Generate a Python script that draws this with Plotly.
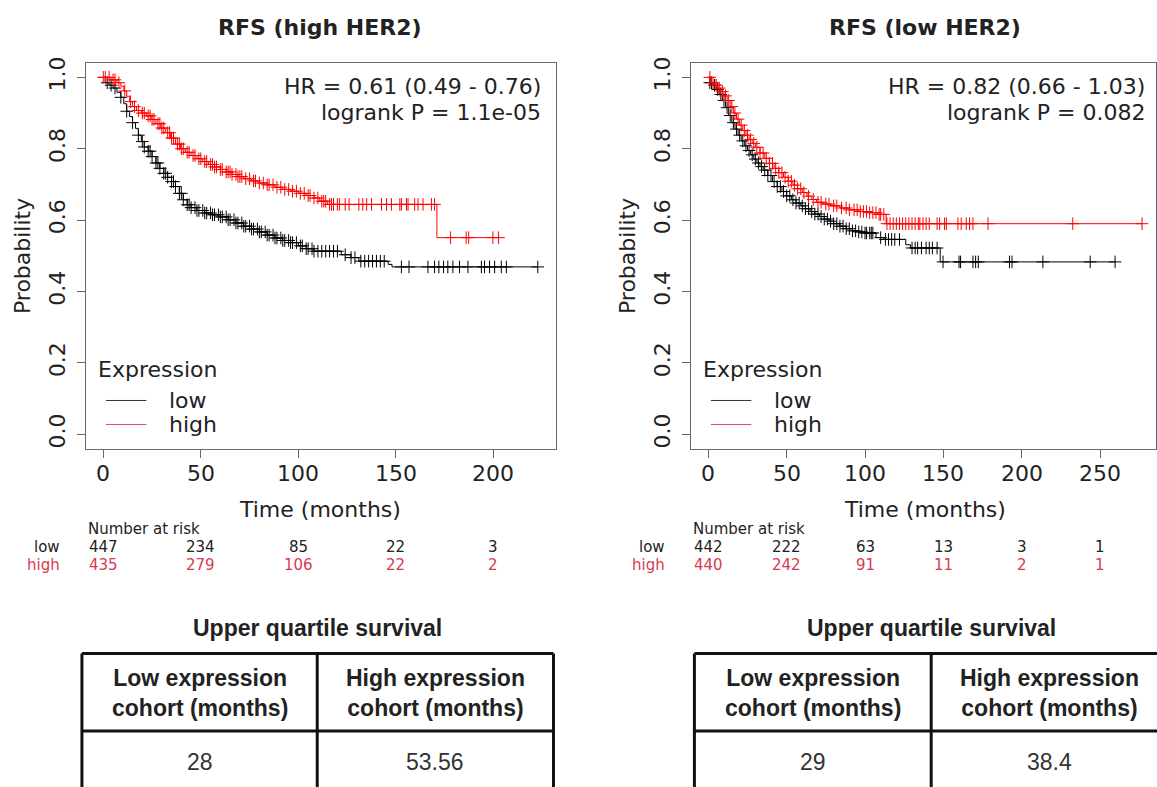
import numpy as np
import plotly.graph_objects as go

W, H = 1157, 787

# ---------------- Kaplan-Meier data: RFS (high HER2) ----------------
a_low_t = [0, 1, 3, 5, 7, 9, 10.5, 12, 13.5, 15, 16.5, 18, 19.5, 21, 23, 25, 27, 29, 31, 33,
           35, 37, 39, 41, 43, 45, 48, 52, 56, 60, 64, 68, 72, 76, 80, 84, 88, 92, 96, 100,
           104, 108, 122, 127, 131, 146, 148]
a_low_s = [1.0, 0.985, 0.978, 0.97, 0.958, 0.944, 0.926, 0.905, 0.89, 0.873, 0.857, 0.838,
           0.82, 0.805, 0.793, 0.778, 0.76, 0.745, 0.731, 0.72, 0.708, 0.694, 0.675, 0.657,
           0.643, 0.635, 0.627, 0.62, 0.615, 0.609, 0.601, 0.592, 0.583, 0.575, 0.567, 0.558,
           0.55, 0.543, 0.537, 0.528, 0.52, 0.513, 0.503, 0.495, 0.485, 0.476, 0.469]
a_low_end = 222.7
a_low_cens = [2, 4, 6, 9, 12, 15, 18, 20, 21, 23, 24, 25, 27, 28, 29, 31, 32, 33, 35, 36, 37,
              39, 40, 41, 43, 44, 45, 47, 48, 49, 51, 52, 53, 55, 56, 57, 59, 60, 61, 63, 64,
              65, 67, 68, 69, 71, 72, 73, 75, 76, 77, 79, 80, 81, 83, 84, 85, 87, 88, 89, 91,
              92, 93, 95, 96, 97, 99, 101, 102, 104, 105, 107, 108, 110, 112, 114, 116, 118,
              120, 124, 127, 129, 132, 134, 136, 138, 140, 142, 144, 152.8, 156.7, 166.4,
              169.8, 172, 174.4, 176.6, 179.2, 182.6, 186.9, 193.8, 195.4, 198, 200.6, 204,
              206.6, 222.7]

a_high_t = [0, 4, 7, 9, 10.5, 12, 13.5, 15, 17, 19.5, 22, 24.5, 27, 29.5, 32, 34.5, 37, 39.5,
            42, 45, 48, 51, 54, 57, 60, 63, 66, 69, 72, 76, 80, 84, 88, 92, 96, 100, 104, 108,
            111, 115, 171]
a_high_s = [1.0, 0.993, 0.985, 0.975, 0.962, 0.947, 0.932, 0.918, 0.907, 0.9, 0.892, 0.882,
            0.87, 0.858, 0.845, 0.83, 0.813, 0.8, 0.79, 0.781, 0.772, 0.764, 0.756, 0.749,
            0.742, 0.735, 0.728, 0.722, 0.716, 0.71, 0.704, 0.699, 0.692, 0.686, 0.681, 0.675,
            0.669, 0.662, 0.653, 0.644, 0.551]
a_high_end = 202.6
a_high_cens = [0, 1, 3, 5, 6, 8, 11, 14, 16, 18, 20, 21, 23, 24, 25, 26, 28, 29, 30, 31, 33,
               34, 35, 36, 38, 39, 40, 41, 43, 44, 46, 47, 49, 50, 52, 53, 55, 56, 57, 58, 60,
               61, 63, 64, 65, 66, 68, 69, 70, 71, 73, 75, 77, 78, 80, 82, 84, 85, 87, 89, 91,
               93, 95, 97, 99, 101, 103, 105, 106, 108, 110, 112, 113, 114, 116, 117, 118,
               120, 121, 124, 126, 131, 133, 135, 137.5, 142.6, 145.2, 147.7, 152, 152.8,
               155.4, 156.2, 159.6, 161.3, 163.9, 168.2, 169.8, 178, 186, 187.3, 199.7, 202.6]

a_xticks = [0, 50, 100, 150, 200]
a_risk_low = [447, 234, 85, 22, 3]
a_risk_high = [435, 279, 106, 22, 2]

# ---------------- Kaplan-Meier data: RFS (low HER2) ----------------
b_low_t = [0, 1, 3, 5, 7, 9, 11, 13, 15, 17, 19, 21, 23, 25, 27, 29, 31, 33, 35, 38, 41, 44,
           47, 50, 53, 56, 59, 62, 65, 68, 71, 74, 77, 80, 84, 88, 92, 96, 100, 107, 112, 126,
           129, 148]
b_low_s = [1.0, 0.985, 0.978, 0.966, 0.952, 0.935, 0.915, 0.893, 0.873, 0.855, 0.838, 0.822,
           0.808, 0.795, 0.783, 0.771, 0.76, 0.75, 0.74, 0.725, 0.708, 0.694, 0.68, 0.668,
           0.657, 0.648, 0.64, 0.632, 0.624, 0.617, 0.61, 0.603, 0.597, 0.59, 0.583, 0.576,
           0.57, 0.567, 0.564, 0.551, 0.546, 0.531, 0.522, 0.483]
b_low_end = 259.6
b_low_cens = [1, 2, 4, 6, 8, 10, 12, 14, 16, 18, 20, 22, 24, 26, 28, 30, 32, 34, 36, 38, 40,
              42, 44, 46, 48, 50, 52, 54, 56, 58, 60, 62, 64, 66, 68, 70, 72, 74, 76, 78, 80,
              82, 84, 86, 88, 90, 92, 94, 96, 98, 100, 101, 103, 104, 105, 110, 113, 115, 117,
              119, 122, 130, 132, 133.6, 136, 139, 141, 143, 146, 149.8, 160, 161, 168.9,
              170.6, 172.3, 192.2, 193.8, 213.5, 243.7, 259.6]

b_high_t = [0, 2, 4, 6, 8, 10, 12, 14, 16, 18, 20, 22, 24, 26, 28, 30, 33, 36, 39, 42, 45, 48,
            51, 54, 57, 60, 63, 66, 69, 73, 78, 84, 90, 96, 102, 108, 113.5]
b_high_s = [1.0, 0.985, 0.978, 0.97, 0.96, 0.948, 0.935, 0.918, 0.9, 0.883, 0.866, 0.851,
            0.838, 0.826, 0.815, 0.804, 0.788, 0.773, 0.759, 0.745, 0.733, 0.72, 0.709, 0.698,
            0.688, 0.677, 0.667, 0.658, 0.65, 0.645, 0.64, 0.634, 0.629, 0.624, 0.621, 0.616,
            0.59]
b_high_end = 276.8
b_high_cens = [1, 3, 5, 7, 9, 11, 13, 15, 17, 19, 21, 23, 25, 27, 29, 31, 33, 35, 37, 39, 41,
               43, 45, 47, 49, 51, 53, 55, 57, 59, 61, 64, 67, 70, 72, 75, 77, 80, 82, 85, 88,
               90, 93, 95, 97, 99, 101, 103, 105, 107, 109, 110, 112, 114, 116, 118, 120, 122,
               124, 126, 128, 130, 132, 134, 135, 137, 139, 141, 146, 147.6, 150.8, 151.9,
               159.3, 161.4, 164.6, 166.7, 168.9, 178.5, 232.6, 276.8]

b_xticks = [0, 50, 100, 150, 200, 250]
b_risk_low = [442, 222, 63, 13, 3, 1]
b_risk_high = [440, 242, 91, 11, 2, 1]

y_ticks = [0.0, 0.2, 0.4, 0.6, 0.8, 1.0]

# ---------------- summary tables ----------------
panel_titles = ["RFS (high HER2)", "RFS (low HER2)"]
hr_texts = ["HR = 0.61 (0.49 - 0.76)", "HR = 0.82 (0.66 - 1.03)"]
p_texts = ["logrank P = 1.1e-05", "logrank P = 0.082"]
table_title = "Upper quartile survival"
table_headers = ["Low expression<br>cohort (months)", "High expression<br>cohort (months)"]
uq_low = ["28", "29"]
uq_high = ["53.56", "38.4"]

# ---------------- styling ----------------
FONT = "DejaVu Sans"
TFONT = "Liberation Sans, Arial"
TXT = "#222222"
FRAME = "#6a6a6a"
C_LOW = "#000000"
C_HIGH = "#ff0000"
C_RISK_HIGH = "#d93a50"


def px(x):
    return x / W


def py(y):
    return 1 - y / H


def step_at(ts, ss, c):
    i = np.searchsorted(np.asarray(ts), c, side="right") - 1
    return np.asarray(ss)[np.clip(i, 0, len(ss) - 1)]


fig = go.Figure()

panels = [
    dict(xa="x", ya="y", left=86,
         curves=[(a_low_t, a_low_s, a_low_end, a_low_cens, C_LOW),
                 (a_high_t, a_high_s, a_high_end, a_high_cens, C_HIGH)],
         risk=(a_xticks, a_risk_low, a_risk_high), hr_right=543),
    dict(xa="x2", ya="y2", left=691.5,
         curves=[(b_low_t, b_low_s, b_low_end, b_low_cens, C_LOW),
                 (b_high_t, b_high_s, b_high_end, b_high_cens, C_HIGH)],
         risk=(b_xticks, b_risk_low, b_risk_high), hr_right=1148),
]

annotations = []
shapes = []


def ann(text, x, y, size=22, color=TXT, xanchor="center", family=FONT, xref="paper",
        textangle=0):
    annotations.append(dict(text=text, x=x, y=y, xref=xref, yref="paper", showarrow=False,
                            xanchor=xanchor, yanchor="middle", textangle=textangle,
                            font=dict(family=family, size=size, color=color)))


for k, p in enumerate(panels):
    for ts, ss, end, cens, col in p["curves"]:
        fig.add_trace(go.Scatter(
            x=list(ts) + [end], y=list(ss) + [ss[-1]], mode="lines",
            line=dict(color=col, width=1, shape="hv"),
            xaxis=p["xa"], yaxis=p["ya"], showlegend=False, hoverinfo="skip"))
        cy = [float(step_at(ts, ss, c)) for c in cens]
        fig.add_trace(go.Scatter(
            x=cens, y=cy, mode="markers",
            marker=dict(symbol="cross-thin", size=9, line=dict(color=col, width=1)),
            xaxis=p["xa"], yaxis=p["ya"], showlegend=False, hoverinfo="skip"))

    left = p["left"]
    center = (left + (left + 468.5)) / 2
    ann("<b>%s</b>" % panel_titles[k], px(center), py(22))
    ann(hr_texts[k], px(p["hr_right"]), py(81), xanchor="right")
    ann(p_texts[k], px(p["hr_right"]), py(107), xanchor="right")
    ann("Probability", px(left - 64), py(252), textangle=-90)
    ann("Time (months)", px(center), py(507))

    # x tick labels, placed on the axis' own data coordinates
    rt, rl, rh = p["risk"]
    for t in rt:
        ann(str(t), t, py(471), xref=p["xa"])

    # legend block
    ann("Expression", px(left + 9.7), py(366), xanchor="left")
    for lbl, col, yy in [("low", "#333333", 397.5), ("high", "#e0505f", 421.7)]:
        shapes.append(dict(type="line", xref="paper", yref="paper",
                           x0=px(left + 20), x1=px(left + 60.5), y0=py(yy), y1=py(yy),
                           line=dict(color=col, width=1)))
        ann(lbl, px(left + 81), py(yy), xanchor="left")

    # number at risk
    ann("Number at risk", px(left), py(527), size=15, xanchor="left")
    ann("low", px(left - 24), py(545), size=15, xanchor="right")
    ann("high", px(left - 24), py(563), size=15, xanchor="right", color=C_RISK_HIGH)
    for t, nl, nh in zip(rt, rl, rh):
        ann(str(nl), t, py(545), size=15, xref=p["xa"])
        ann(str(nh), t, py(563), size=15, xref=p["xa"], color=C_RISK_HIGH)

# summary tables drawn below each panel
for k, (x0, xm, x1) in enumerate([(82, 317.5, 554), (695, 932, 1169)]):
    top, hdr, bot = 652.5, 730.5, 800
    lw = dict(color="#111111", width=3)
    for (a, b, c, d) in [(x0, top, x1, top), (x0, hdr, x1, hdr), (x0, top, x0, bot),
                         (xm, top, xm, bot), (x1, top, x1, bot)]:
        shapes.append(dict(type="line", xref="paper", yref="paper",
                           x0=px(a), y0=py(b), x1=px(c), y1=py(d), line=lw))
    ann("<b>%s</b>" % table_title, px((x0 + x1) / 2), py(627), size=23, family=TFONT)
    ann("<b>%s</b>" % table_headers[0], px((x0 + xm) / 2), py(692), size=23, family=TFONT)
    ann("<b>%s</b>" % table_headers[1], px((xm + x1) / 2), py(692), size=23, family=TFONT)
    ann(uq_low[k], px((x0 + xm) / 2), py(762), size=23, family=TFONT, color="#333333")
    ann(uq_high[k], px((xm + x1) / 2), py(762), size=23, family=TFONT, color="#333333")

ydom = [py(446), py(57.5)]
axis_common = dict(showline=True, mirror=True, linecolor=FRAME, linewidth=1, ticks="outside",
                   ticklen=8, tickcolor=FRAME, tickwidth=1, showgrid=False, zeroline=False,
                   tickfont=dict(family=FONT, size=22, color=TXT), fixedrange=True)

fig.update_layout(
    width=W, height=H, margin=dict(l=0, r=0, t=0, b=0),
    paper_bgcolor="white", plot_bgcolor="white",
    xaxis=dict(domain=[px(86), px(556)], range=[-8.9, 231.8], anchor="y",
               tickvals=a_xticks, showticklabels=False, **axis_common),
    yaxis=dict(domain=ydom, range=[-0.04, 1.04], anchor="x", tickvals=y_ticks,
               tickformat=".1f", tickangle=-90, ticklabelstandoff=3, **axis_common),
    xaxis2=dict(domain=[px(691.5), 1.0], range=[-11.1, 285.7], anchor="y2",
                tickvals=b_xticks, showticklabels=False, **axis_common),
    yaxis2=dict(domain=ydom, range=[-0.04, 1.04], anchor="x2", tickvals=y_ticks,
                tickformat=".1f", tickangle=-90, ticklabelstandoff=3, **axis_common),
    annotations=annotations, shapes=shapes, showlegend=False,
)

fig.write_html("out.html")
